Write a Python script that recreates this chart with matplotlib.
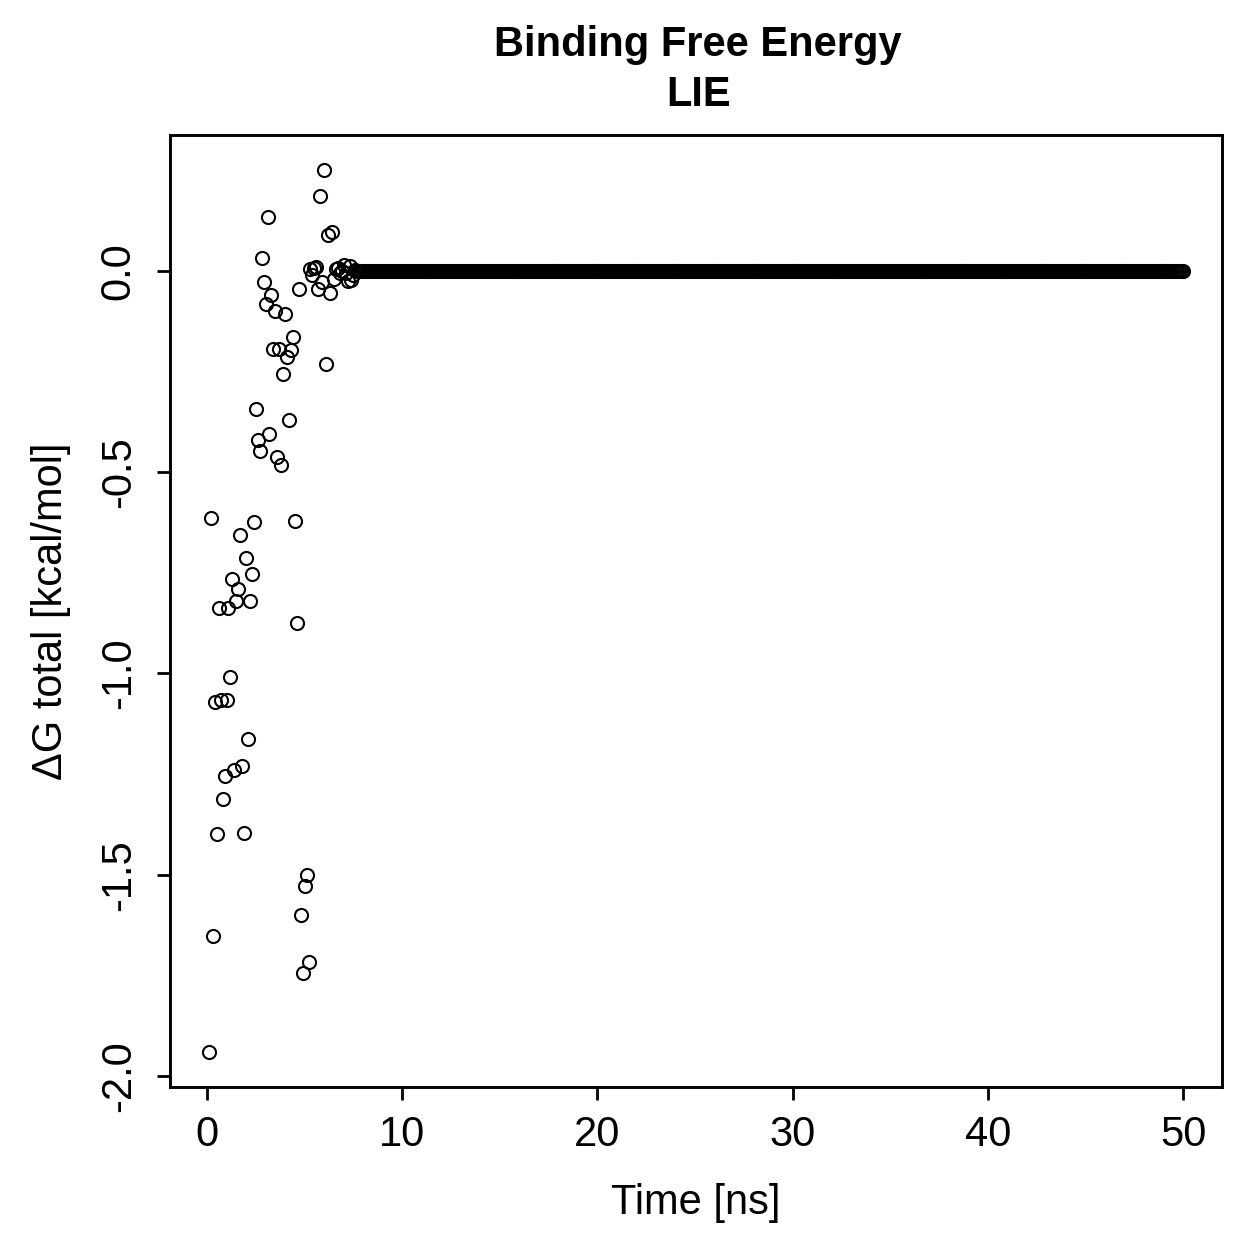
import matplotlib
matplotlib.use('Agg')
import matplotlib.pyplot as plt
import numpy as np

# LIE binding free energy, one value every 0.1 ns
early_dg = [-1.94, -0.614, -1.652, -1.07, -1.40, -0.837, -1.065, -1.313, -1.256, -1.067,
            -0.838, -1.01, -0.765, -1.239, -0.820, -0.791, -0.657, -1.229, -1.396, -0.713,
            -1.164, -0.820, -0.754, -0.625, -0.342, -0.419, -0.448, 0.032, -0.028, -0.083,
            0.135, -0.406, -0.059, -0.194, -0.100, -0.463, -0.194, -0.482, -0.256, -0.107,
            -0.214, -0.370, -0.197, -0.165, -0.621, -0.876, -0.046, -1.60, -1.745, -1.527,
            -1.501, -1.718, 0.005, -0.01, 0.008, 0.01, -0.046, 0.185, -0.027, 0.25,
            -0.231, 0.09, -0.055, 0.096, -0.02, 0.005, 0.008, -0.005, 0.0, 0.015,
            -0.005, -0.025, 0.012, -0.022, -0.01, 0.003]
n_frames = 500
dg = np.zeros(n_frames)
dg[:len(early_dg)] = early_dg
time_ns = np.arange(1, n_frames + 1) * 0.1

plt.rcParams['font.family'] = ['Liberation Sans', 'DejaVu Sans']

fig = plt.figure(figsize=(12.59, 12.59), dpi=100)
ax = fig.add_axes([170/1259, 1 - 1087/1259, (1222-170)/1259, (1087-135)/1259])

ax.plot(time_ns, dg, linestyle='none', marker='o', markersize=9.4,
        markerfacecolor='none', markeredgecolor='black', markeredgewidth=1.5)

# R style 4% padding
xr = time_ns.max() - time_ns.min()
yr = dg.max() - dg.min()
ax.set_xlim(time_ns.min() - 0.04 * xr, time_ns.max() + 0.04 * xr)
ax.set_ylim(dg.min() - 0.04 * yr, dg.max() + 0.04 * yr)

ax.set_xticks([0, 10, 20, 30, 40, 50])
ax.set_yticks([-2.0, -1.5, -1.0, -0.5, 0.0])
ax.set_yticklabels(['-2.0', '-1.5', '-1.0', '-0.5', '0.0'], rotation=90, va='center')
ax.tick_params(axis='both', direction='out', length=9.5, width=2.0, labelsize=30)
ax.tick_params(axis='x', pad=11)
ax.tick_params(axis='y', pad=13)
for s in ax.spines.values():
    s.set_linewidth(2.1)

ax.set_xlabel('Time [ns]', fontsize=30, labelpad=20)
ax.set_ylabel('ΔG total [kcal/mol]', fontsize=30, labelpad=20)
fig.text(0.5545, 1 - 45/1259, 'Binding Free Energy', ha='center', va='center',
         fontsize=30, fontweight='bold')
fig.text(0.5545, 1 - 95/1259, 'LIE', ha='center', va='center',
         fontsize=30, fontweight='bold')

fig.savefig('out.png', dpi=100)
